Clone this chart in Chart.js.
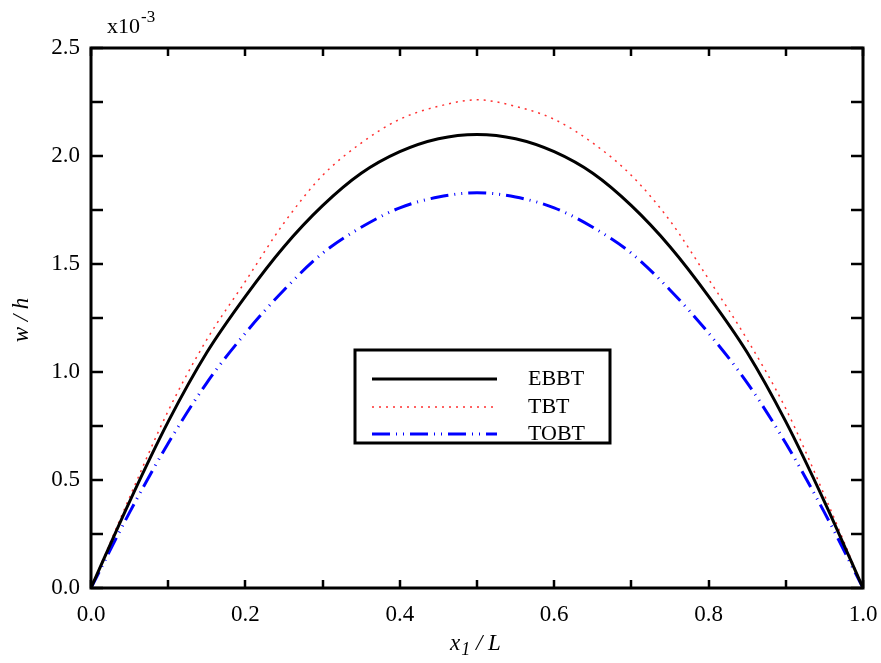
<!DOCTYPE html>
<html>
<head>
<meta charset="utf-8">
<script src="https://cdn.jsdelivr.net/npm/chart.js@4.4.0/dist/chart.umd.min.js"></script>
<style>
html,body{margin:0;padding:0;background:#fff;}
canvas{display:block;}
</style>
</head>
<body>
<canvas id="c" width="881" height="663"></canvas>
<script>
// ---- data (w/h in units of 1e-3) ----
const xValues = [0,0.05,0.10,0.15,0.20,0.25,0.30,0.35,0.40,0.45,0.50,0.55,0.60,0.65,0.70,0.75,0.80,0.85,0.90,0.95,1.00];
const ebbt = [0,0.40,0.77,1.09,1.35,1.58,1.77,1.92,2.02,2.08,2.10,2.08,2.02,1.92,1.77,1.58,1.35,1.09,0.77,0.40,0];
const tbt  = [0,0.42,0.82,1.15,1.42,1.69,1.91,2.06,2.17,2.23,2.26,2.23,2.17,2.06,1.91,1.70,1.43,1.15,0.83,0.43,0];
const tobt = [0,0.35,0.67,0.95,1.18,1.38,1.55,1.67,1.76,1.81,1.83,1.81,1.76,1.67,1.55,1.38,1.18,0.95,0.67,0.35,0];
const seriesNames = ['EBBT','TBT','TOBT'];
const xLabelTicks = [0,0.2,0.4,0.6,0.8,1.0];
const xTickMarks = [0,0.1,0.2,0.3,0.4,0.5,0.6,0.7,0.8,0.9,1.0];
const yLabelTicks = [0,0.5,1.0,1.5,2.0,2.5];
const yTickMarks = [0,0.25,0.5,0.75,1.0,1.25,1.5,1.75,2.0,2.25,2.5];
const yExponent = '-3';

const FONT = '"Liberation Serif", "Times New Roman", serif';

function pts(arr){ return xValues.map((x,i)=>({x:x,y:arr[i]})); }

const datasets = [
  {label:seriesNames[0], data:pts(ebbt), borderColor:'#000000', borderWidth:3, pointRadius:0, cubicInterpolationMode:'monotone', fill:false},
  {label:seriesNames[1], data:pts(tbt), borderColor:'#ff3030', borderWidth:1.5, borderDash:[2,5], pointRadius:0, cubicInterpolationMode:'monotone', fill:false},
  {label:seriesNames[2], data:pts(tobt), borderColor:'#0000ff', borderWidth:3, borderDash:[18,6,1,6,1,6], pointRadius:0, cubicInterpolationMode:'monotone', fill:false}
];

const decor = {
  id:'decor',
  afterDraw(chart){
    const ctx = chart.ctx, a = chart.chartArea;
    const xs = chart.scales.x, ys = chart.scales.y;
    ctx.save();
    ctx.strokeStyle = '#000';
    ctx.lineCap = 'butt';
    // ticks
    ctx.lineWidth = 2.5;
    xTickMarks.forEach(v=>{
      const px = Math.round(xs.getPixelForValue(v));
      ctx.beginPath(); ctx.moveTo(px,a.bottom); ctx.lineTo(px,a.bottom-8); ctx.stroke();
      ctx.beginPath(); ctx.moveTo(px,a.top); ctx.lineTo(px,a.top+8); ctx.stroke();
    });
    yTickMarks.forEach(v=>{
      const py = Math.round(ys.getPixelForValue(v));
      ctx.beginPath(); ctx.moveTo(a.left,py); ctx.lineTo(a.left+12,py); ctx.stroke();
      ctx.beginPath(); ctx.moveTo(a.right,py); ctx.lineTo(a.right-12,py); ctx.stroke();
    });
    // frame
    ctx.lineWidth = 3;
    ctx.strokeRect(a.left, a.top, a.right-a.left, a.bottom-a.top);

    // exponent
    ctx.fillStyle = '#000';
    ctx.textBaseline = 'alphabetic';
    ctx.textAlign = 'left';
    ctx.font = '22px ' + FONT;
    ctx.fillText('x10', 107, 33);
    const w10 = ctx.measureText('x10').width;
    ctx.font = '17px ' + FONT;
    ctx.fillText(yExponent, 107 + w10 + 1, 22);

    // x title
    ctx.font = 'italic 23px ' + FONT;
    let tx = 450, ty = 650;
    ctx.fillText('x', tx, ty); tx += ctx.measureText('x').width + 1;
    ctx.font = 'italic 18px ' + FONT;
    ctx.fillText('1', tx, ty + 5); tx += ctx.measureText('1').width;
    ctx.font = 'italic 23px ' + FONT;
    ctx.fillText(' / L', tx, ty);

    // y title
    ctx.save();
    ctx.translate(28, 320);
    ctx.rotate(-Math.PI/2);
    ctx.textAlign = 'center';
    ctx.font = 'italic 23px ' + FONT;
    ctx.fillText('w / h', 0, 0);
    ctx.restore();

    // legend
    const bx = 355, by = 350, bw = 255, bh = 93;
    ctx.fillStyle = '#fff';
    ctx.fillRect(bx, by, bw, bh);
    ctx.lineWidth = 3;
    ctx.strokeStyle = '#000';
    ctx.strokeRect(bx, by, bw, bh);
    const rows = [379, 407, 434];
    chart.data.datasets.forEach((ds,i)=>{
      ctx.save();
      ctx.strokeStyle = ds.borderColor;
      ctx.lineWidth = ds.borderWidth;
      ctx.setLineDash(ds.borderDash || []);
      ctx.beginPath(); ctx.moveTo(372, rows[i]); ctx.lineTo(497, rows[i]); ctx.stroke();
      ctx.restore();
      ctx.fillStyle = '#000';
      ctx.font = '22px ' + FONT;
      ctx.textBaseline = 'middle';
      ctx.textAlign = 'left';
      ctx.fillText(ds.label, 528, rows[i]);
    });
    ctx.restore();
  }
};

new Chart(document.getElementById('c'), {
  type:'line',
  data:{datasets:datasets},
  options:{
    responsive:false,
    animation:false,
    devicePixelRatio:1,
    layout:{padding:{top:48, right:18, left:0, bottom:0}},
    plugins:{legend:{display:false}, tooltip:{enabled:false}},
    scales:{
      x:{
        type:'linear', min:0, max:1,
        afterBuildTicks(s){ s.ticks = xLabelTicks.map(v=>({value:v})); },
        afterFit(s){ s.height = 75; s.paddingLeft = 0; s.paddingRight = 0; },
        grid:{display:false, drawTicks:false},
        border:{display:false},
        ticks:{autoSkip:false, maxRotation:0, padding:13, color:'#000', font:{family:FONT, size:23},
          callback:(v)=>Number(v).toFixed(1)}
      },
      y:{
        type:'linear', min:0, max:2.5,
        afterBuildTicks(s){ s.ticks = yLabelTicks.map(v=>({value:v})); },
        afterFit(s){ s.width = 91; s.paddingTop = 0; s.paddingBottom = 0; },
        grid:{display:false, drawTicks:false},
        border:{display:false},
        ticks:{autoSkip:false, padding:11, color:'#000', font:{family:FONT, size:23},
          callback:(v)=>Number(v).toFixed(1)}
      }
    }
  },
  plugins:[decor]
});
</script>
</body>
</html>
